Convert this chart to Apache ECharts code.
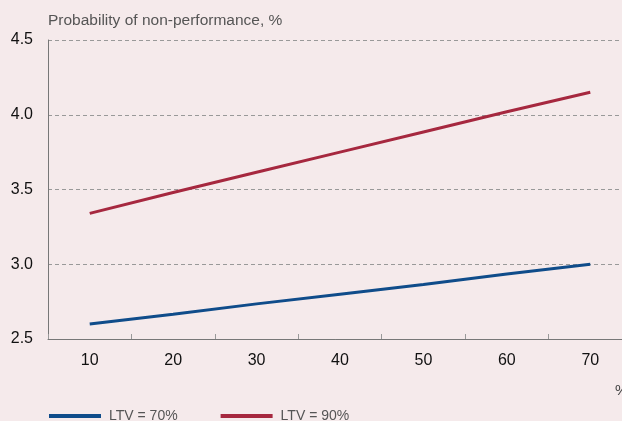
<!DOCTYPE html>
<html>
<head>
<meta charset="utf-8">
<script src="https://cdn.jsdelivr.net/npm/echarts@6/dist/echarts.min.js"></script>
<style>
html,body{margin:0;padding:0;background:#f5eaeb;}
#chart{width:622px;height:421px;}
</style>
</head>
<body>
<div id="chart"></div>
<script>
const categories = ['10','20','30','40','50','60','70'];
const ltv70 = [2.60, 2.665, 2.735, 2.80, 2.865, 2.935, 3.00];
const ltv90 = [3.34, 3.48, 3.615, 3.75, 3.885, 4.02, 4.15];
const seriesNames = ['LTV = 70%', 'LTV = 90%'];
const yTitle = 'Probability of non-performance, %';
const xUnit = '%';

const chart = echarts.init(document.getElementById('chart'), null, {renderer:'canvas'});
chart.setOption({
  backgroundColor: '#f5eaeb',
  animation: false,
  textStyle: {fontFamily: 'Liberation Sans, Arial, sans-serif'},
  grid: {left: 48, width: 584, top: 40, bottom: 82, containLabel: false, outerBoundsMode: 'none'},
  legend: {
    left: 44, top: 404, itemGap: 43,
    itemWidth: 52, itemHeight: 4,
    icon: 'rect',
    textStyle: {color: '#555', fontSize: 14, padding: [0, 0, 0, 3]},
    data: seriesNames
  },
  graphic: [
    {type:'text', left: 48, top: 13, style:{text: yTitle, fill:'#555', fontSize:15.5, fontFamily:'Liberation Sans, Arial, sans-serif'}},
    {type:'text', left: 615, top: 383, style:{text: xUnit, fill:'#444', fontSize:15, fontFamily:'Liberation Sans, Arial, sans-serif'}}
  ],
  xAxis: {
    type: 'category',
    data: categories,
    boundaryGap: true,
    axisLine: {lineStyle: {color: '#777', width: 1}},
    axisTick: {show: true, length: 5, inside: true, alignWithLabel: false, lineStyle: {color: '#999'}},
    axisLabel: {color: '#111', fontSize: 16, margin: 14},
    splitLine: {show: false}
  },
  yAxis: {
    type: 'value',
    min: 2.5, max: 4.5, interval: 0.5,
    axisLine: {show: true, lineStyle: {color: '#777', width: 1}},
    axisTick: {show: false},
    axisLabel: {color: '#111', fontSize: 16, margin: 15, formatter: v => v.toFixed(1)},
    splitLine: {show: true, lineStyle: {color: '#999', type: [4, 3], width: 1}}
  },
  series: [
    {name: seriesNames[0], type: 'line', data: ltv70, symbol: 'none', lineStyle: {color: '#0f4c8a', width: 3}, itemStyle: {color: '#0f4c8a'}},
    {name: seriesNames[1], type: 'line', data: ltv90, symbol: 'none', lineStyle: {color: '#a6283f', width: 3}, itemStyle: {color: '#a6283f'}}
  ]
});
</script>
</body>
</html>
